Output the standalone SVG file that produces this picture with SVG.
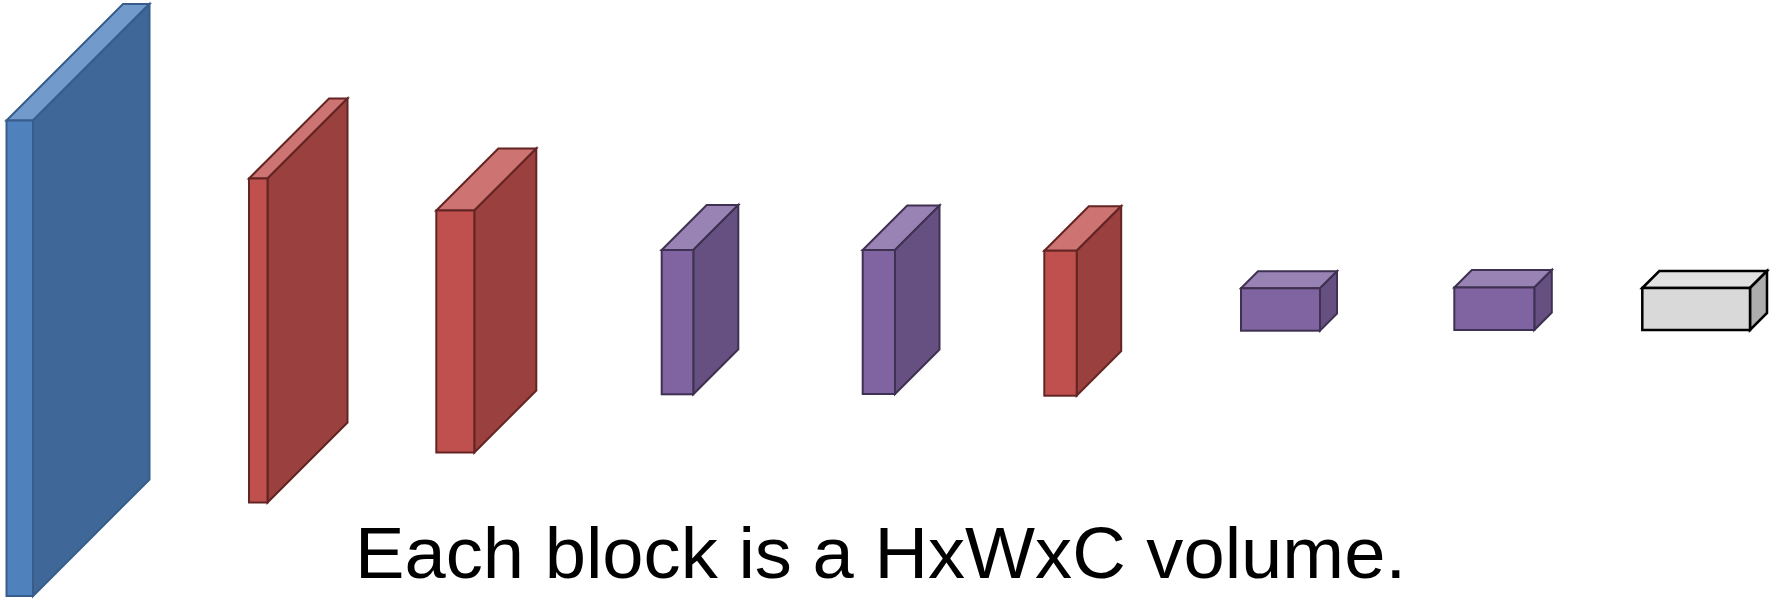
<svg xmlns="http://www.w3.org/2000/svg" width="1783" height="600" viewBox="0 0 1783 600">
<style>
.s{stroke-width:2;stroke-linejoin:miter}
.blue{stroke:#385D8A}
.blue .f{fill:#4F81BD}.blue .t{fill:#729ACA}.blue .r{fill:#3F6797}
.red{stroke:#632523}
.red .f{fill:#C0504D}.red .t{fill:#CD7371}.red .r{fill:#9A403E}
.pur{stroke:#3F3151}
.pur .f{fill:#8064A2}.pur .t{fill:#9983B5}.pur .r{fill:#665082}
.grey{stroke:#000000;stroke-width:2.5}
.grey .f{fill:#D9D9D9}.grey .t{fill:#E1E1E1}.grey .r{fill:#ADADAD}
.cap{font-family:"Liberation Sans",Arial,sans-serif;font-size:71.5px;fill:#000}
</style>
<rect width="1783" height="600" fill="#ffffff"/>
<g id="block1" class="s blue">
<polygon class="t" points="6.5,120.5 123,4 149.5,4 33,120.5"/>
<polygon class="r" points="33,120.5 149.5,4 149.5,479.5 33,596"/>
<rect class="f" x="6.5" y="120.5" width="26.5" height="475.5"/>
</g>
<g id="block2" class="s red">
<polygon class="t" points="249,178.5 329,98.5 347.5,98.5 267.5,178.5"/>
<polygon class="r" points="267.5,178.5 347.5,98.5 347.5,422.5 267.5,502.5"/>
<rect class="f" x="249" y="178.5" width="18.5" height="324"/>
</g>
<g id="block3" class="s red">
<polygon class="t" points="436.3,210.5 498.3,148.5 536.3,148.5 474.3,210.5"/>
<polygon class="r" points="474.3,210.5 536.3,148.5 536.3,390.5 474.3,452.5"/>
<rect class="f" x="436.3" y="210.5" width="38" height="242"/>
</g>
<g id="block4" class="s pur">
<polygon class="t" points="661.7,250 706.7,205 738.3,205 693.3,250"/>
<polygon class="r" points="693.3,250 738.3,205 738.3,349.3 693.3,394.3"/>
<rect class="f" x="661.7" y="250" width="31.6" height="144.3"/>
</g>
<g id="block5" class="s pur">
<polygon class="t" points="862.7,250 907.2,205.5 939.5,205.5 895,250"/>
<polygon class="r" points="895,250 939.5,205.5 939.5,349.5 895,394"/>
<rect class="f" x="862.7" y="250" width="32.3" height="144"/>
</g>
<g id="block6" class="s red">
<polygon class="t" points="1044.3,250.7 1088.8,206.2 1121.2,206.2 1076.7,250.7"/>
<polygon class="r" points="1076.7,250.7 1121.2,206.2 1121.2,351.2 1076.7,395.7"/>
<rect class="f" x="1044.3" y="250.7" width="32.4" height="145"/>
</g>
<g id="block7" class="s pur">
<polygon class="t" points="1241,288.3 1258,271.3 1337,271.3 1320,288.3"/>
<polygon class="r" points="1320,288.3 1337,271.3 1337,313.7 1320,330.7"/>
<rect class="f" x="1241" y="288.3" width="79" height="42.4"/>
</g>
<g id="block8" class="s pur">
<polygon class="t" points="1454.3,287.5 1471.8,270 1551.8,270 1534.3,287.5"/>
<polygon class="r" points="1534.3,287.5 1551.8,270 1551.8,312.5 1534.3,330"/>
<rect class="f" x="1454.3" y="287.5" width="80" height="42.5"/>
</g>
<g id="block9" class="s grey">
<polygon class="t" points="1642.3,288 1659.3,271 1767,271 1750,288"/>
<polygon class="r" points="1750,288 1767,271 1767,313 1750,330"/>
<rect class="f" x="1642.3" y="288" width="107.7" height="42"/>
</g>
<g id="connectors"></g>
<text id="caption" class="cap" x="355" y="578" textLength="1051" lengthAdjust="spacingAndGlyphs">Each block is a HxWxC volume.</text>
</svg>
